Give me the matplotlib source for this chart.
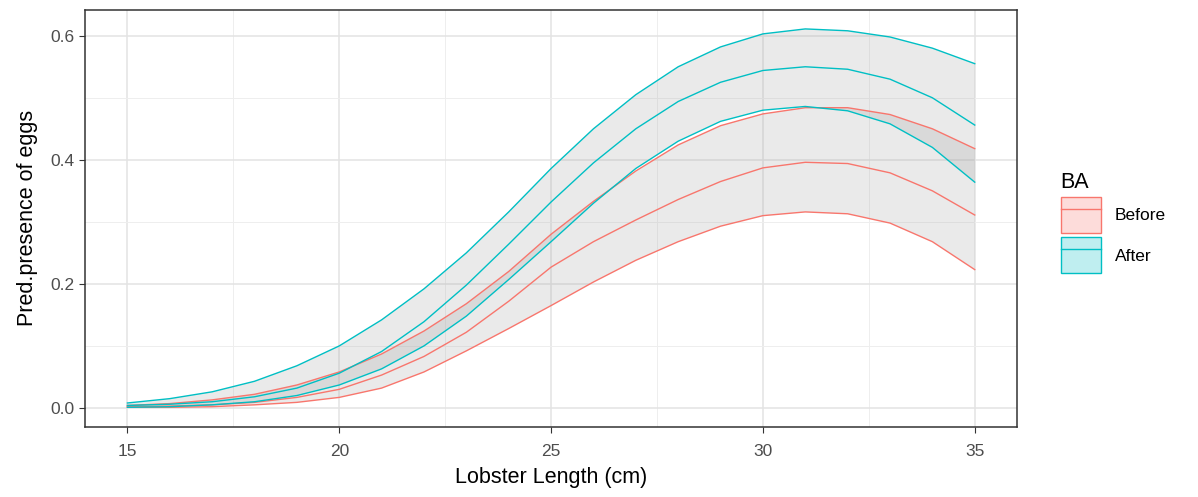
import numpy as np
import matplotlib.pyplot as plt
from matplotlib.patches import Patch
from matplotlib.lines import Line2D
from matplotlib.ticker import MultipleLocator

plt.rcParams["font.family"] = ["Liberation Sans", "DejaVu Sans"]

length = np.arange(15, 36)

after_fit = [0.004, 0.006, 0.010, 0.018, 0.032, 0.056, 0.091, 0.139, 0.198, 0.264, 0.332,
             0.395, 0.450, 0.494, 0.525, 0.544, 0.550, 0.546, 0.530, 0.500, 0.456]
after_hi = [0.008, 0.015, 0.026, 0.043, 0.068, 0.100, 0.142, 0.192, 0.250, 0.316, 0.386,
            0.450, 0.505, 0.550, 0.582, 0.603, 0.611, 0.608, 0.598, 0.580, 0.555]
after_lo = [0.001, 0.002, 0.005, 0.010, 0.020, 0.037, 0.063, 0.100, 0.148, 0.207, 0.268,
            0.330, 0.386, 0.430, 0.462, 0.480, 0.486, 0.479, 0.458, 0.420, 0.364]

before_fit = [0.002, 0.003, 0.005, 0.009, 0.017, 0.030, 0.053, 0.083, 0.122, 0.172, 0.227,
              0.268, 0.303, 0.336, 0.365, 0.387, 0.396, 0.394, 0.379, 0.350, 0.311]
before_hi = [0.004, 0.007, 0.013, 0.022, 0.037, 0.058, 0.087, 0.124, 0.168, 0.220, 0.280,
             0.333, 0.382, 0.424, 0.455, 0.474, 0.484, 0.484, 0.473, 0.450, 0.418]
before_lo = [0.001, 0.001, 0.002, 0.005, 0.009, 0.017, 0.032, 0.058, 0.092, 0.128, 0.165,
             0.203, 0.238, 0.268, 0.293, 0.310, 0.316, 0.313, 0.298, 0.268, 0.223]

red = "#F8766D"
teal = "#00BFC4"

fig = plt.figure(figsize=(11.98, 4.97), dpi=100)
ax = fig.add_axes([0.071, 0.141, 0.778, 0.839])

for fit, hi, lo, col in [(before_fit, before_hi, before_lo, red),
                         (after_fit, after_hi, after_lo, teal)]:
    ax.fill_between(length, lo, hi, facecolor="#999999", alpha=0.2, linewidth=0, zorder=2)
    ax.plot(length, hi, color=col, linewidth=1.0, zorder=3)
    ax.plot(length, lo, color=col, linewidth=1.0, zorder=3)
    ax.plot(length, fit, color=col, linewidth=1.0, zorder=3)

ax.set_xlim(14, 36)
ax.set_ylim(-0.0306, 0.6416)
ax.set_xticks([15, 20, 25, 30, 35])
ax.set_yticks([0.0, 0.2, 0.4, 0.6])
ax.set_yticklabels(["0.0", "0.2", "0.4", "0.6"])
ax.xaxis.set_minor_locator(MultipleLocator(2.5))
ax.yaxis.set_minor_locator(MultipleLocator(0.1))
ax.grid(which="major", color="#E3E3E3", linewidth=1.1, zorder=0)
ax.grid(which="minor", color="#EEEEEE", linewidth=0.7, zorder=0)
ax.set_axisbelow(True)
ax.tick_params(which="major", length=4, color="#333333", labelcolor="#4D4D4D", labelsize=12.5)
ax.tick_params(axis="x", pad=8)
ax.tick_params(which="minor", length=0)
for s in ax.spines.values():
    s.set_color("#333333")
    s.set_linewidth(1.1)

ax.set_xlabel("Lobster Length (cm)", fontsize=15.5, color="black", labelpad=6)
ax.set_ylabel("Pred.presence of eggs", fontsize=15.5, color="black", labelpad=9)

handles = [
    (Patch(facecolor=red, alpha=0.25, edgecolor="none"), Patch(facecolor="none", edgecolor=red, linewidth=1),
     Line2D([], [], color=red, linewidth=1.0)),
    (Patch(facecolor=teal, alpha=0.25, edgecolor="none"), Patch(facecolor="none", edgecolor=teal, linewidth=1),
     Line2D([], [], color=teal, linewidth=1.0)),
]
leg = ax.legend(handles, ["Before", "After"], title="BA", loc="center left",
                bbox_to_anchor=(1.03, 0.49), frameon=False, fontsize=12.5,
                title_fontsize=15.5, handlelength=2.3, handleheight=2.8,
                handletextpad=0.8, labelspacing=0.25, alignment="left")

fig.savefig("out.png", dpi=100)
